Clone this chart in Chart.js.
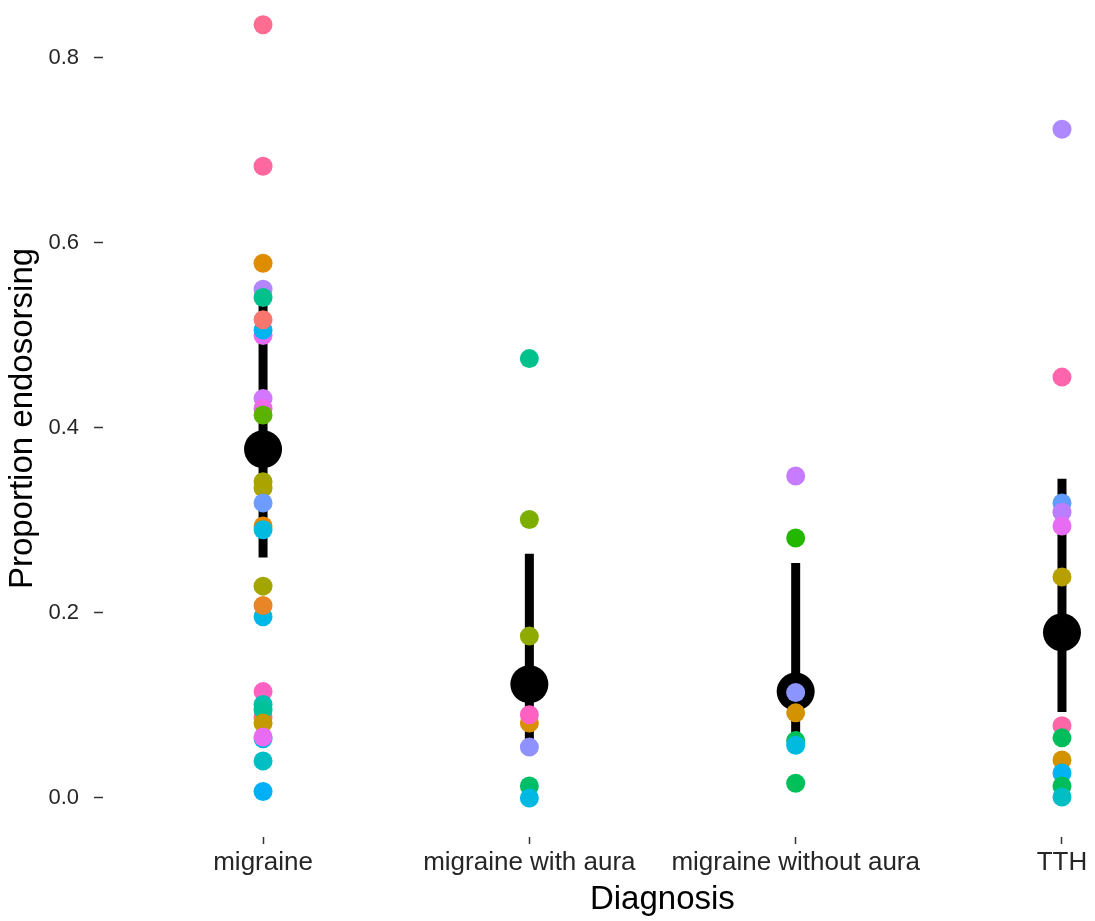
<!DOCTYPE html>
<html>
<head>
<meta charset="utf-8">
<title>Proportion endosorsing by diagnosis</title>
<script src="https://cdn.jsdelivr.net/npm/chart.js@4"></script>
<style>
  html, body { margin: 0; padding: 0; background: #ffffff; }
  canvas { display: block; }
</style>
</head>
<body>
<canvas id="chart" width="1095" height="921"></canvas>
<script>
// Diagnostic groups shown along the x axis
const categories = ['migraine', 'migraine with aura', 'migraine without aura', 'TTH'];

// Pooled proportion and its interval for each group
const meanProp = [0.377, 0.123, 0.115, 0.179];
const ciLower  = [0.260, 0.063, 0.066, 0.093];
const ciUpper  = [0.537, 0.264, 0.254, 0.345];

// Per-study proportions in each group
const propMigraine = [0.836, 0.683, 0.578, 0.550, 0.541, 0.500, 0.506, 0.517, 0.432, 0.421, 0.414,
                      0.342, 0.335, 0.319, 0.294, 0.290, 0.229, 0.196, 0.208, 0.115, 0.087, 0.101,
                      0.095, 0.081, 0.064, 0.066, 0.040, 0.007];
const propWithAura = [0.475, 0.301, 0.175, 0.081, 0.090, 0.055, 0.013, 0.000];
const propWithoutAura = [0.348, 0.281, 0.114, 0.092, 0.062, 0.057, 0.016];
const propTTH = [0.723, 0.455, 0.319, 0.309, 0.294, 0.239, 0.078, 0.065, 0.041, 0.027, 0.013, 0.001];

// Study colours, one per point above
const colMigraine = ['#FF6C91', '#FF689F', '#DE8C00', '#B385FF', '#00C08B', '#E76BF3', '#00B4F0', '#F8766D',
                     '#D277FF', '#EF67EB', '#5BB300', '#A3A500', '#ABA300', '#6D9CFF', '#E58700', '#00BAE0',
                     '#A3A500', '#00B8E7', '#E88526', '#FF61C3', '#FB737A', '#00C0B0', '#00C19A', '#C49A00',
                     '#00B8E7', '#E76BF3', '#00BFC4', '#00B0F6'];
const colWithAura = ['#00C08B', '#7CAE00', '#8FAA00', '#D89000', '#FF61C3', '#8F91FF', '#00BE67', '#00B9E3'];
const colWithoutAura = ['#C77CFF', '#24B700', '#8C94FF', '#D39200', '#00C05A', '#00BAE0', '#00C05A'];
const colTTH = ['#AD88FF', '#FF65AC', '#619CFF', '#BB7EFF', '#E76BF3', '#B79F00', '#FF66A8', '#00BD5C',
                '#D39200', '#00B4F0', '#00BD5C', '#00BFC4'];

const yTickValues = [0, 0.2, 0.4, 0.6, 0.8];

const studyValues = [propMigraine, propWithAura, propWithoutAura, propTTH];
const studyColours = [colMigraine, colWithAura, colWithoutAura, colTTH];

const pointData = [];
const pointColours = [];
studyValues.forEach((vals, i) => {
  vals.forEach((v, j) => {
    pointData.push({ x: i + 1, y: v });
    pointColours.push(studyColours[i][j]);
  });
});

// Vertical interval bars
const intervalSets = categories.map((c, i) => ({
  label: c + ' interval',
  data: [{ x: i + 1, y: ciLower[i] }, { x: i + 1, y: ciUpper[i] }],
  showLine: true,
  borderColor: '#000000',
  borderWidth: 9,
  borderCapStyle: 'butt',
  pointRadius: 0,
  pointHoverRadius: 0,
  order: 3
}));

const meanSet = {
  label: 'pooled',
  data: meanProp.map((v, i) => ({ x: i + 1, y: v })),
  pointRadius: 19,
  pointHoverRadius: 19,
  pointBackgroundColor: '#000000',
  pointBorderWidth: 0,
  order: 2
};

const studySet = {
  label: 'studies',
  data: pointData,
  pointRadius: 9.5,
  pointHoverRadius: 9.5,
  pointBackgroundColor: pointColours,
  pointBorderWidth: 0,
  order: 1
};

const fontFamily = '"Liberation Sans", Arial, Helvetica, sans-serif';

// Fixed axis band sizes, with no extra room reserved for edge labels
function fixBand(size) {
  return (scale) => {
    if (scale.isHorizontal()) scale.height = size; else scale.width = size;
    scale.paddingTop = 0;
    scale.paddingBottom = 0;
    scale.paddingLeft = 0;
    scale.paddingRight = 0;
  };
}

// The panel's full x extent runs past the canvas edge; centre the x title on that extent
const panelExtent = {
  id: 'panelExtent',
  afterLayout(chart) {
    const x = chart.scales.x;
    x.right = x.getPixelForValue(4.6);
  }
};

new Chart(document.getElementById('chart'), {
  type: 'scatter',
  data: { datasets: [studySet, meanSet, ...intervalSets] },
  plugins: [panelExtent],
  options: {
    responsive: false,
    animation: false,
    devicePixelRatio: 1,
    layout: { padding: 0, autoPadding: false },
    plugins: {
      legend: { display: false },
      tooltip: { enabled: false }
    },
    scales: {
      x: {
        type: 'linear',
        min: 0.399,
        max: 4.124,
        afterFit: fixBand(84),
        afterBuildTicks: (scale) => { scale.ticks = categories.map((c, i) => ({ value: i + 1 })); },
        border: { display: false },
        grid: {
          drawOnChartArea: false,
          drawTicks: true,
          tickLength: 7,
          tickColor: '#333333',
          tickWidth: 1.5
        },
        ticks: {
          autoSkip: false,
          maxRotation: 0,
          padding: 3,
          color: '#262626',
          font: { family: fontFamily, size: 26 },
          callback: (v) => categories[Math.round(v) - 1]
        },
        title: {
          display: true,
          text: 'Diagnosis',
          color: '#000000',
          font: { family: fontFamily, size: 33 },
          padding: { top: 0, bottom: 1 }
        }
      },
      y: {
        type: 'linear',
        min: -0.0422,
        max: 0.8627,
        afterFit: fixBand(103),
        afterBuildTicks: (scale) => { scale.ticks = yTickValues.map((v) => ({ value: v })); },
        border: { display: false },
        grid: {
          drawOnChartArea: false,
          drawTicks: true,
          tickLength: 9,
          tickColor: '#333333',
          tickWidth: 1.5
        },
        ticks: {
          padding: 15,
          color: '#262626',
          font: { family: fontFamily, size: 22 },
          callback: (v) => Number(v).toFixed(1)
        },
        title: {
          display: true,
          text: 'Proportion endosorsing',
          color: '#000000',
          font: { family: fontFamily, size: 33 },
          padding: { top: 3, bottom: 0 }
        }
      }
    }
  }
});
</script>
</body>
</html>
